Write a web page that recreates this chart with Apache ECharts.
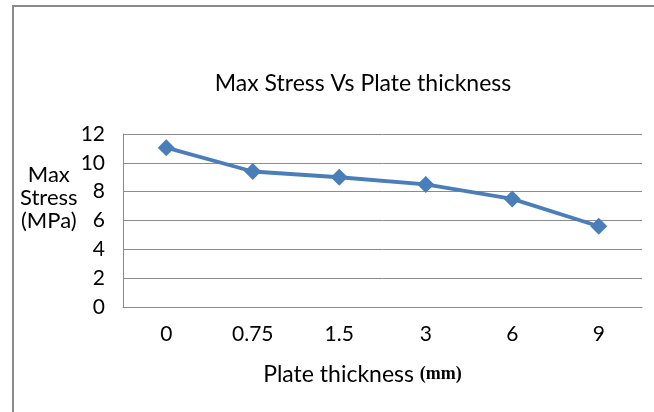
<!DOCTYPE html>
<html>
<head>
<meta charset="utf-8">
<script src="https://cdn.jsdelivr.net/npm/echarts@6/dist/echarts.min.js"></script>
<style>html,body{margin:0;padding:0;background:#fff;}#c{width:654px;height:412px;}</style>
</head>
<body>
<div id="c"></div>
<script>
var categories = ['0', '0.75', '1.5', '3', '6', '9'];
var maxStress = [11.05, 9.4, 9.0, 8.5, 7.5, 5.6];
var yTicks = [0, 2, 4, 6, 8, 10, 12];

var chart = echarts.init(document.getElementById('c'), null, {renderer: 'canvas'});
var font = 'Lato';
chart.setOption({
  animation: false,
  backgroundColor: '#fff',
  title: {
    text: 'Max Stress Vs Plate thickness',
    left: 358, top: 67, textAlign: 'center',
    textStyle: {fontFamily: font, fontSize: 23, fontWeight: 'normal', color: '#000'}
  },
  grid: {left: 123, right: 12, top: 134, bottom: 105},
  xAxis: {
    type: 'category',
    data: categories,
    boundaryGap: true,
    axisLine: {lineStyle: {color: '#8a8a8a', width: 1}},
    axisTick: {show: false},
    axisLabel: {fontFamily: font, fontSize: 21, color: '#000', margin: 17},
    name: '{a|Plate thickness }{b|(mm)}',
    nameLocation: 'middle',
    nameGap: 56,
    nameTextStyle: {
      padding: [0, 40, 0, 0],
      rich: {
        a: {fontFamily: font, fontSize: 23, color: '#000'},
        b: {fontFamily: 'Liberation Serif', fontSize: 18, fontWeight: 'bold', color: '#000'}
      }
    }
  },
  yAxis: {
    type: 'value',
    min: yTicks[0], max: yTicks[yTicks.length - 1], interval: 2,
    axisLine: {show: true, lineStyle: {color: '#8a8a8a', width: 1}},
    axisTick: {show: false},
    splitLine: {lineStyle: {color: '#8c8c8c', width: 1}},
    axisLabel: {fontFamily: font, fontSize: 21, color: '#000', margin: 18}
  },
  graphic: [
    {type: 'line', shape: {x1: 12, y1: 6, x2: 654, y2: 6}, style: {stroke: '#8a8a8a', lineWidth: 2}},
    {type: 'line', shape: {x1: 13, y1: 5, x2: 13, y2: 412}, style: {stroke: '#8a8a8a', lineWidth: 2}},
    {type: 'text', left: 20, top: 163, style: {
      text: 'Max\nStress\n(MPa)', fontFamily: font, fontSize: 22, fill: '#000',
      textAlign: 'center', lineHeight: 23
    }}
  ],
  series: [{
    type: 'line',
    data: maxStress,
    symbol: 'diamond',
    symbolSize: 17,
    lineStyle: {color: '#4a7ebb', width: 3.8},
    itemStyle: {color: '#4a7ebb'}
  }]
});
</script>
</body>
</html>
